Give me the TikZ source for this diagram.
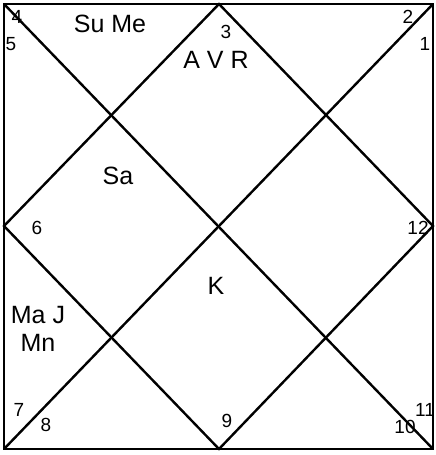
\documentclass[tikz,border=0pt]{standalone}
\usepackage{fontspec}
\setmainfont{Liberation Sans}
\begin{document}
\begin{tikzpicture}[x=1pt, y=-1pt, line width=2.4pt,
  house/.style={font=\fontsize{19}{19}\selectfont, inner sep=0pt},
  planet/.style={font=\fontsize{25}{28}\selectfont, inner sep=0pt, align=center}]
\useasboundingbox (0,0) rectangle (436,455);
% ===== corners and midpoints of the chart =====
\coordinate (TL) at (4,4);
\coordinate (TR) at (433,4);
\coordinate (BR) at (433,449);
\coordinate (BL) at (4,449);
\coordinate (T) at (219,4);
\coordinate (R) at (433,226);
\coordinate (B) at (219,449);
\coordinate (L) at (4,226);
% outer frame
\draw (TL) -- (TR) -- (BR) -- (BL) -- cycle;
% diagonals
\draw (TL) -- (BR);
\draw (TR) -- (BL);
% inner diamond
\draw (T) -- (R) -- (B) -- (L) -- cycle;

% ===== house numbers =====
\node[house] (h1) at (425,44) {1};
\node[house] (h2) at (408,17) {2};
\node[house] (h3) at (226,32) {3};
\node[house] (h4) at (17,17) {4};
\node[house] (h5) at (11,44) {5};
\node[house] (h6) at (37,228) {6};
\node[house] (h7) at (19,410) {7};
\node[house] (h8) at (46,425) {8};
\node[house] (h9) at (227,421) {9};
\node[house] (h10) at (405,427) {10};
\node[house] (h11) at (425,410) {11};
\node[house] (h12) at (418,228) {12};

% ===== planets =====
\node[planet] (suMe) at (110,24) {Su Me};
\node[planet] (avr) at (216,60) {A V R};
\node[planet] (sa) at (118,176) {Sa};
\node[planet] (k) at (216,286) {K};
\node[planet] (maJMn) at (38,329) {Ma J\\Mn};
\end{tikzpicture}
\end{document}
